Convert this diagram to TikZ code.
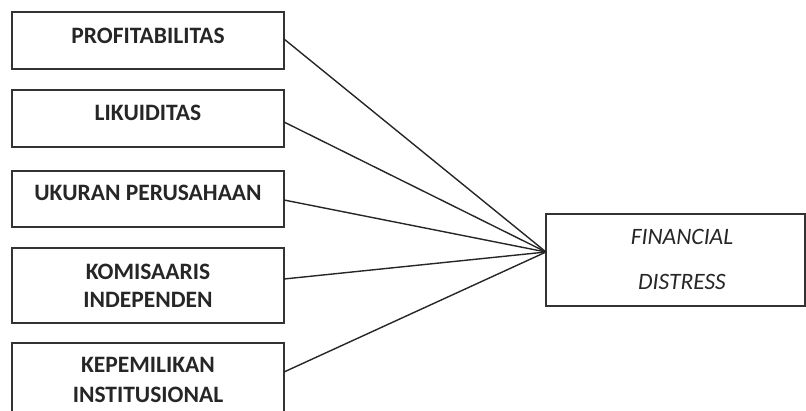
\documentclass[tikz,border=0pt]{standalone}
\usepackage{fontspec}
\setmainfont{Carlito}
\begin{document}
\begin{tikzpicture}[x=1pt,y=-1pt,
  box/.style={draw=black!80,line width=1.3pt},
  lbl/.style={font=\fontsize{23.5}{28}\selectfont\bfseries,text=black!85,inner sep=0pt,anchor=base},
  flbl/.style={font=\fontsize{23.5}{28}\selectfont\itshape,text=black!85,inner sep=0pt,anchor=base},
  conn/.style={draw=black!85,line width=1.4pt}]
\useasboundingbox (0,0) rectangle (806,410);
% boxes
\draw[box] (12,12) rectangle (284,69);
\draw[box] (12,90) rectangle (284,147);
\draw[box] (12,171) rectangle (284,227);
\draw[box] (12,248) rectangle (284,323);
\draw[box] (12,343) rectangle (284,430);
\draw[box] (546,214) rectangle (805,306);
% labels
\node[lbl] (t1) at (148,43) {PROFITABILITAS};
\node[lbl] (t2) at (148,120) {LIKUIDITAS};
\node[lbl] (t3) at (148,200) {UKURAN PERUSAHAAN};
\node[lbl] (t4a) at (148,279) {KOMISAARIS};
\node[lbl] (t4b) at (148,307) {INDEPENDEN};
\node[lbl] (t5a) at (148,372) {KEPEMILIKAN};
\node[lbl] (t5b) at (148,402) {INSTITUSIONAL};
\node[flbl] (f1) at (682,244) {FINANCIAL};
\node[flbl] (f2) at (682,289) {DISTRESS};
% connector points
\coordinate (a1) at (284,39);
\coordinate (a2) at (284,122);
\coordinate (a3) at (284,200);
\coordinate (a4) at (284,279);
\coordinate (a5) at (284,372);
\coordinate (fd) at (546,252);
\draw[conn] (a1) -- (fd);
\draw[conn] (a2) -- (fd);
\draw[conn] (a3) -- (fd);
\draw[conn] (a4) -- (fd);
\draw[conn] (a5) -- (fd);
\end{tikzpicture}
\end{document}
